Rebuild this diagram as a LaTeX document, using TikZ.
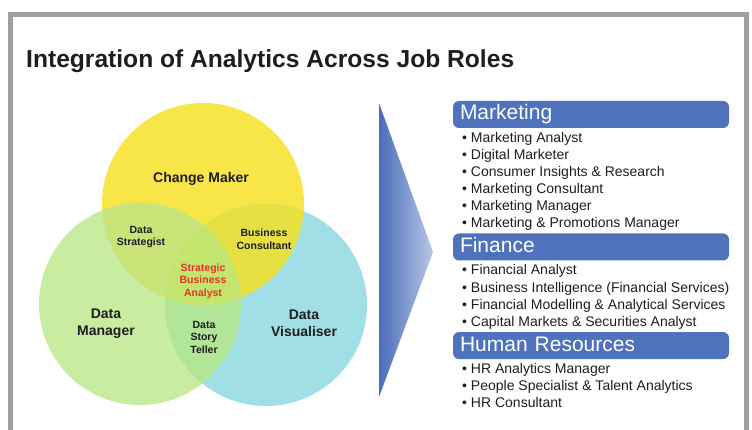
\documentclass[tikz,border=0pt]{standalone}
\usepackage{fontspec}
\setmainfont{Liberation Sans}

\definecolor{framegray}{HTML}{A0A0A0}
\definecolor{hdrblue}{HTML}{4F72BD}
\definecolor{arrowdark}{HTML}{4A6CB8}
\definecolor{arrowlight}{HTML}{B8C7E6}
\definecolor{cyel}{HTML}{F8E548}
\definecolor{cgrn}{HTML}{C8EDA0}
\definecolor{ccya}{HTML}{A0DFE5}
\definecolor{cyg}{HTML}{C9E57A}
\definecolor{cyc}{HTML}{E6E043}
\definecolor{cgc}{HTML}{B1E597}
\definecolor{call}{HTML}{C3E46D}
\definecolor{sbared}{HTML}{E5332A}
\definecolor{inktext}{HTML}{1E1E1E}

\tikzset{
	hdr/.style={
				rectangle,
				rounded corners=6pt,
				fill=hdrblue,
				text=white,
				font=\fontsize{21}{24}\selectfont,
				text width=262pt,
				align=left,
				minimum height=27pt,
				inner xsep=7pt,
				inner ysep=0pt,
				text height=15pt,
				text depth=4pt
	},
	item/.style={
				anchor=base west,
				inner sep=0pt,
				text=inktext,
				font=\fontsize{14}{17}\selectfont
	},
	biglabel/.style={
				align=center,
				inner sep=0pt,
				text=inktext,
				font=\bfseries\fontsize{14}{17}\selectfont
	},
	smalllabel/.style={
				align=center,
				inner sep=0pt,
				text=inktext,
				font=\bfseries\fontsize{10.5}{12.5}\selectfont
	}
}

\begin{document}
\begin{tikzpicture}[x=1pt, y=-1pt]
			\useasboundingbox (0,0) rectangle (752,430);
			\clip (0,0) rectangle (752,430);
			\fill[white] (0,0) rectangle (752,430);
			\draw[framegray, line width=5pt] (10.5,440) -- (10.5,15) -- (746,15) -- (746,440);

			\node[anchor=base west, inner sep=0pt, text=inktext, font=\bfseries\fontsize{24.6}{28}\selectfont] (title) at (26,67.5) {Integration of Analytics Across Job Roles};

			% venn circles
			\coordinate (cm) at (203,204);
			\coordinate (dm) at (140,304);
			\coordinate (dv) at (266,305);
			\fill[cyel] (cm) circle[radius=101pt];
			\fill[cgrn] (dm) circle[radius=101pt];
			\fill[ccya] (dv) circle[radius=101pt];
			\begin{scope}
				\clip (cm) circle[radius=101pt];
				\fill[cyg] (dm) circle[radius=101pt];
				\fill[cyc] (dv) circle[radius=101pt];
			\end{scope}
			\begin{scope}
				\clip (dm) circle[radius=101pt];
				\fill[cgc] (dv) circle[radius=101pt];
				\clip (dv) circle[radius=101pt];
				\fill[call] (cm) circle[radius=101pt];
			\end{scope}

			\node[biglabel] (chg) at (201,179) {Change Maker};
			\node[biglabel] (dman) at (106,324) {Data\\Manager};
			\node[biglabel] (dvis) at (304,323) {Data\\Visualiser};
			\node[smalllabel] (dstr) at (141,237) {Data\\Strategist};
			\node[smalllabel] (bcon) at (264,239) {Business\\Consultant};
			\node[smalllabel, text=sbared] (sba) at (203,281) {Strategic\\Business\\Analyst};
			\node[smalllabel] (dstory) at (204,337) {Data\\Story\\Teller};

			% arrow
			\shade[left color=arrowdark, right color=arrowlight] (379,103) -- (433,252) -- (379,397) -- cycle;

			% job roles
			\node[hdr] (mkt) at (591,114.5) {Marketing};
			\foreach \t [count=\i] in {Marketing Analyst, Digital Marketer, Consumer Insights \& Research, Marketing Consultant, Marketing Manager, Marketing \& Promotions Manager}
				\node[item] (mk\i) at (462,125.5+17*\i) {\textbullet\ \t};

			\node[hdr] (fin) at (591,247) {Finance};
			\foreach \t [count=\i] in {Financial Analyst, Business Intelligence (Financial Services), Financial Modelling \& Analytical Services, Capital Markets \& Securities Analyst}
				\node[item] (fi\i) at (462,258+17*\i) {\textbullet\ \t};

			\node[hdr] (hr) at (591,345.5) {Human Resources};
			\foreach \t [count=\i] in {HR Analytics Manager, People Specialist \& Talent Analytics, HR Consultant}
				\node[item] (hr\i) at (462,356+17*\i) {\textbullet\ \t};
\end{tikzpicture}
\end{document}
